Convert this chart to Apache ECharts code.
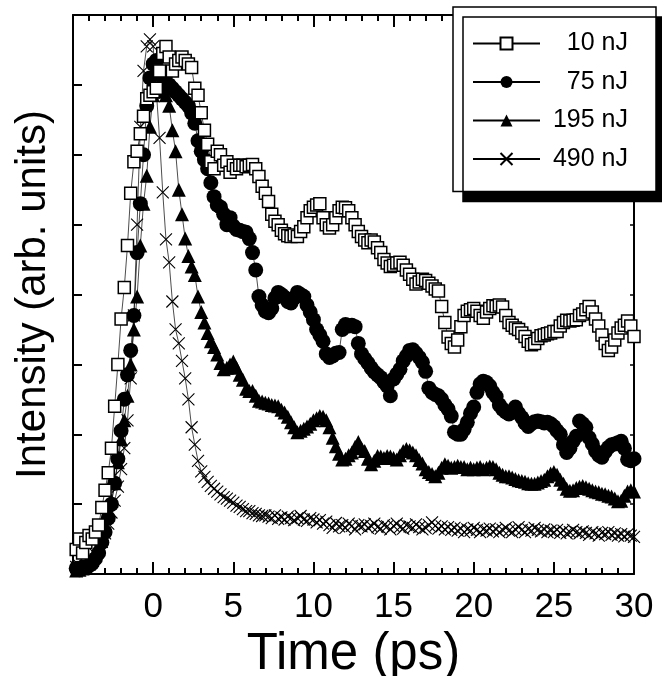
<!DOCTYPE html>
<html><head><meta charset="utf-8">
<script src="https://cdn.jsdelivr.net/npm/echarts@6/dist/echarts.min.js"></script>
<style>html,body{margin:0;padding:0;background:#fff}#c{width:662px;height:676px}</style>
</head><body><div id="c"></div>
<script>
// sampling grid: t = -4.8 ps ... 30.0 ps, step 0.2 ps
const tStart = -4.8, tStep = 0.2;
const seriesNames = ['10 nJ', '75 nJ', '195 nJ', '490 nJ'];
const xTicks = [0, 5, 10, 15, 20, 25, 30];

const data10 = [
 0.35,0.5,0.3,0.45,0.55, 0.5,0.6,0.7,0.95,1.2, 1.45,1.8,2.4,3.0,3.65, 4.1,4.7,5.45,5.9,6.05,
 6.3,6.55,6.8,6.85,6.9, 6.95,7.2,7.45,7.55,7.4, 7.2,7.3,7.35,7.4,7.35, 7.3,7.25,6.95,6.85,6.6,
 6.35,6.15,5.9,5.8,6.05, 6.0,5.85,5.9,5.75,5.85, 5.8,5.85,5.85,5.83,5.85, 5.86,5.8,5.69,5.55,5.45,
 5.33,5.15,5.05,5.0,4.92, 4.87,4.84,4.83,4.85,4.83, 4.9,4.97,5.1,5.2,5.25, 5.28,5.3,5.1,5.0,4.95,
 5.0,5.1,5.2,5.25,5.24, 5.2,5.1,5.0,4.9,4.83, 4.78,4.74,4.78,4.75,4.67, 4.6,4.5,4.45,4.4,4.42,
 4.45,4.46,4.42,4.35,4.29, 4.22,4.15,4.18,4.22,4.2, 4.16,4.12,4.08,4.05,3.83, 3.6,3.39,3.3,3.25,3.35,
 3.54,3.7,3.76,3.78,3.8, 3.76,3.7,3.66,3.75,3.8, 3.84,3.83,3.85,3.82,3.7, 3.6,3.56,3.52,3.5,3.45,
 3.4,3.33,3.28,3.3,3.37, 3.41,3.42,3.44,3.45,3.47, 3.47,3.55,3.6,3.63,3.62, 3.63,3.64,3.7,3.72,3.78,
 3.83,3.75,3.65,3.55,3.42, 3.3,3.2,3.25,3.35,3.45, 3.52,3.56,3.62,3.55,3.4
];
const data75 = [
 0.08,0.06,0.1,0.1,0.12, 0.15,0.22,0.3,0.45,0.6, 0.8,1.0,1.3,1.65,2.05, 2.5,2.85,3.2,3.7,4.6,
 5.3,6.0,6.7,7.1,7.3, 7.35,7.2,7.1,7.15,7.0, 6.95,6.9,6.85,6.8,6.75, 6.7,6.6,6.45,6.2,6.05,
 5.93,5.8,5.6,5.4,5.28, 5.25,5.15,5.0,5.1,4.98, 4.93,4.92,4.9,4.89,4.8, 4.6,4.35,3.97,3.85,3.76,
 3.74,3.8,3.95,4.03,4.0, 3.96,3.9,3.88,3.95,4.03, 4.0,3.97,3.85,3.75,3.64, 3.5,3.42,3.33,3.15,3.1,
 3.12,3.16,3.17,3.5,3.57, 3.55,3.56,3.54,3.3,3.15, 3.08,3.02,2.95,2.89,2.85, 2.81,2.75,2.69,2.55,2.79,
 2.86,2.93,3.05,3.12,3.2, 3.21,3.16,3.1,3.03,2.9, 2.66,2.6,2.57,2.55,2.5, 2.42,2.36,2.26,2.03,2.0,
 2.0,2.07,2.17,2.3,2.39, 2.6,2.72,2.76,2.74,2.69, 2.6,2.54,2.42,2.36,2.32, 2.29,2.33,2.39,2.3,2.24,
 2.16,2.11,2.15,2.18,2.19, 2.18,2.16,2.17,2.15,2.11, 2.05,2.0,1.85,1.74,1.8, 1.9,1.97,2.19,2.15,2.1,
 1.95,1.86,1.76,1.7,1.67, 1.75,1.81,1.85,1.86,1.88, 1.9,1.8,1.64,1.62,1.65
];
const data195 = [
 0.05,0.06,0.08,0.1,0.15, 0.2,0.3,0.42,0.55,0.7, 0.85,1.05,1.3,1.6,1.93, 2.2,2.55,3.0,3.5,3.97,
 4.7,5.3,5.7,6.4,6.85, 6.95,6.9,6.95,6.85,6.7, 6.35,6.05,5.5,5.15,4.8, 4.55,4.4,4.28,3.97,3.75,
 3.6,3.45,3.33,3.25,3.14, 3.02,2.93,2.95,3.0,3.04, 2.95,2.85,2.78,2.65,2.62, 2.62,2.55,2.48,2.47,2.45,
 2.44,2.42,2.41,2.4,2.35, 2.31,2.25,2.17,2.1,2.03, 2.05,2.08,2.11,2.15,2.2, 2.23,2.26,2.25,2.2,2.1,
 1.95,1.83,1.72,1.64,1.65, 1.7,1.74,1.82,1.89,1.8, 1.76,1.65,1.57,1.62,1.69, 1.68,1.66,1.69,1.68,1.66,
 1.64,1.7,1.76,1.79,1.77, 1.74,1.7,1.63,1.58,1.5, 1.46,1.43,1.4,1.45,1.52, 1.57,1.55,1.52,1.53,1.55,
 1.53,1.53,1.5,1.52,1.5, 1.52,1.53,1.5,1.52,1.54, 1.53,1.5,1.45,1.42,1.4, 1.4,1.38,1.36,1.34,1.33,
 1.32,1.3,1.29,1.29,1.31, 1.33,1.35,1.4,1.44,1.46, 1.42,1.35,1.29,1.22,1.19, 1.2,1.23,1.25,1.26,1.24,
 1.22,1.2,1.18,1.17,1.15, 1.14,1.12,1.11,1.08,1.04, 1.05,1.12,1.18,1.2,1.18
];
const data490 = [
 0.1,0.12,0.1,0.14,0.18, 0.22,0.28,0.36,0.46,0.58, 0.72,0.88,1.05,1.25,1.5, 1.8,2.2,2.8,3.7,5.0,
 6.4,7.2,7.55,7.65,7.55, 6.9,6.24,5.46,4.79,4.46, 3.9,3.5,3.3,3.05,2.8, 2.5,2.1,1.85,1.62,1.47,
 1.39,1.32,1.26,1.22,1.18, 1.14,1.1,1.08,1.05,1.02, 0.98,0.96,0.93,0.9,0.9, 0.87,0.86,0.84,0.83,0.84,
 0.82,0.8,0.84,0.79,0.81, 0.78,0.82,0.8,0.77,0.8, 0.83,0.78,0.76,0.8,0.78, 0.74,0.77,0.72,0.75,0.7,
 0.66,0.73,0.68,0.7,0.66, 0.72,0.69,0.64,0.7,0.68, 0.71,0.66,0.69,0.72,0.67, 0.65,0.7,0.68,0.64,0.69,
 0.72,0.67,0.65,0.7,0.68, 0.66,0.71,0.67,0.64,0.66, 0.7,0.74,0.69,0.65,0.68, 0.64,0.67,0.63,0.66,0.62,
 0.65,0.6,0.64,0.62,0.66, 0.63,0.6,0.64,0.62,0.65, 0.61,0.64,0.6,0.63,0.66, 0.62,0.6,0.64,0.67,0.63,
 0.6,0.64,0.62,0.66,0.63, 0.61,0.64,0.6,0.62,0.6, 0.63,0.59,0.62,0.58,0.6, 0.63,0.6,0.58,0.61,0.59,
 0.56,0.6,0.58,0.55,0.59, 0.57,0.6,0.56,0.58,0.55, 0.57,0.54,0.57,0.55,0.53
];

function pairs(arr){ return arr.map((v,i)=>[+(tStart + i*tStep).toFixed(2), v]); }

const FONT = 'Liberation Sans, Arial, sans-serif';
const chart = echarts.init(document.getElementById('c'), null, {renderer:'canvas'});

const axisCommonX = {
  type:'value', min:-5, max:30, interval:5,
  axisLine:{show:true, onZero:false, lineStyle:{color:'#000', width:2}},
  axisTick:{show:true, inside:true, length:12, lineStyle:{color:'#000', width:2}},
  minorTick:{show:true, splitNumber:5, length:6, lineStyle:{color:'#000', width:2}},
  splitLine:{show:false}, minorSplitLine:{show:false}
};
const lineW = 0.7;
function mk(name, data, symbol, size, itemStyle){
  return {name, type:'line', data:pairs(data), symbol, symbolSize:size,
    showSymbol:true, showAllSymbol:true, clip:false,
    lineStyle:{color:'#000', width:lineW}, itemStyle, emphasis:{disabled:true}};
}
const option = {
  animation:false,
  backgroundColor:'#fff',
  grid:{left:73, right:28, top:15, bottom:102, containLabel:false, outerBoundsMode:'none'},
  legend:{
    data:seriesNames, orient:'vertical', left:453, top:7,
    backgroundColor:'#fff', borderColor:'#000', borderWidth:1.5,
    shadowColor:'#000', shadowBlur:0, shadowOffsetX:10, shadowOffsetY:10,
    padding:[24,28,20,19], itemGap:13.5, itemWidth:67, itemHeight:15,
    formatter: n => '{t|' + n + '}',
    textStyle:{color:'#000', fontFamily:FONT, fontSize:25,
      rich:{t:{width:83, align:'right', fontSize:25, fontFamily:FONT, color:'#000'}}}
  },
  xAxis:[
    Object.assign({}, axisCommonX, {position:'bottom',
      name:'Time (ps)', nameLocation:'middle', nameGap:46,
      nameTextStyle:{fontFamily:FONT, fontSize:51, color:'#000'},
      axisLabel:{show:true, margin:16, fontFamily:FONT, fontSize:35, color:'#000',
        formatter: v => xTicks.includes(v) ? String(v) : ''}}),
    Object.assign({}, axisCommonX, {position:'top', axisLabel:{show:false}})
  ],
  yAxis:[
    {type:'value', min:0, max:8, interval:1, position:'left',
      name:'Intensity (arb. units)', nameLocation:'middle', nameGap:19,
      nameTextStyle:{fontFamily:FONT, fontSize:42, color:'#000'},
      axisLine:{show:true, onZero:false, lineStyle:{color:'#000', width:2}},
      axisTick:{show:true, inside:true, length:9, lineStyle:{color:'#000', width:2}},
      axisLabel:{show:false}, splitLine:{show:false}},
    {type:'value', min:0, max:8, interval:1, position:'right',
      axisLine:{show:true, onZero:false, lineStyle:{color:'#000', width:2}},
      axisTick:{show:true, inside:true, length:4, lineStyle:{color:'#000', width:1.5}},
      axisLabel:{show:false}, splitLine:{show:false}}
  ],
  series:[
    mk('490 nJ', data490, 'path://M0,0L10,10M10,0L0,10', 12, {color:'#000', borderColor:'#000', borderWidth:1.1}),
    mk('195 nJ', data195, 'triangle', 14, {color:'#000'}),
    mk('75 nJ', data75, 'circle', 15, {color:'#000'}),
    mk('10 nJ', data10, 'rect', 12, {color:'#fff', borderColor:'#000', borderWidth:1.5})
  ]
};
chart.setOption(option);
</script></body></html>
